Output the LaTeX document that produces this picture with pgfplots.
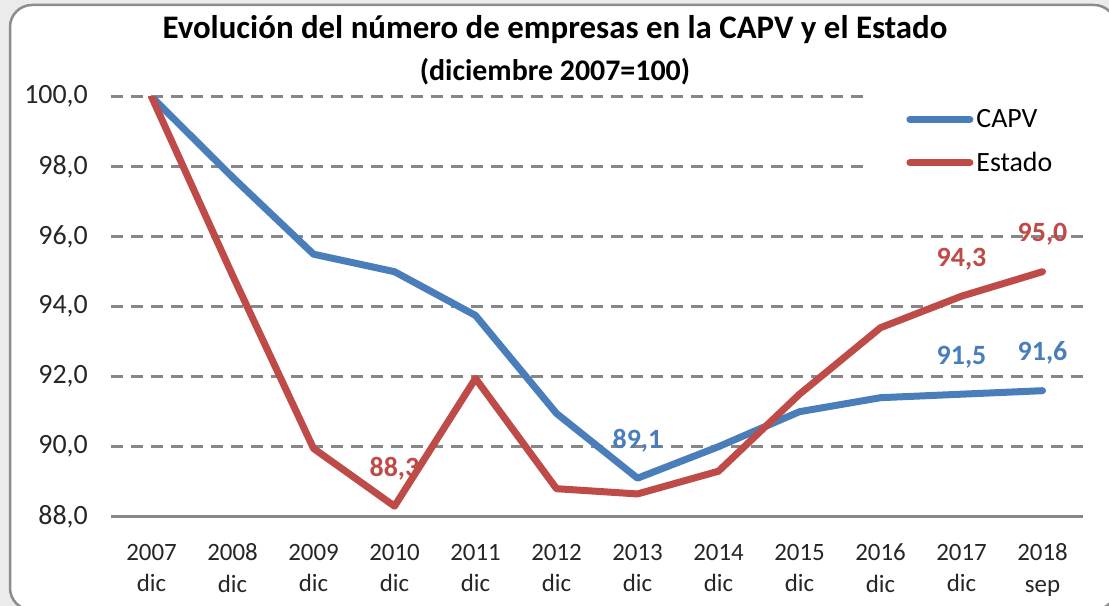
\documentclass[border=0pt]{standalone}
\usepackage{pgfplots}
\pgfplotsset{compat=1.18}
\usepackage{fontspec}
\setmainfont{Carlito}
\definecolor{capv}{HTML}{4A7EBB}
\definecolor{estado}{HTML}{BE4B48}
\definecolor{gridc}{HTML}{878787}
\definecolor{framec}{HTML}{8C8C8C}
\definecolor{bgc}{HTML}{EBEBEB}
\begin{document}
\begin{tikzpicture}[x=1bp,y=1bp]
\useasboundingbox (0,0) rectangle (1109,606);
\fill[bgc] (0,0) rectangle (1109,606);
\begin{scope}
\clip (0,0) rectangle (1109,606);
\draw[line width=2.5bp, draw=framec, fill=white, rounded corners=22bp] (10,601) rectangle (1116,-4);
\end{scope}
\node[font=\fontsize{33}{38}\selectfont\bfseries] at (555,576) {Evolución del número de empresas en la CAPV y el Estado};
\node[font=\fontsize{30}{34}\selectfont\bfseries] at (555,534) {(diciembre 2007=100)};
\begin{axis}[
  at={(111bp,89.3bp)}, anchor=south west, scale only axis,
  width=972bp, height=420bp,
  xmin=-0.5, xmax=11.5, ymin=88, ymax=100,
  axis x line*=bottom, axis y line*=left,
  x axis line style={-, draw=gridc, line width=2.5bp},
  y axis line style={draw=none},
  major tick length=0pt,
  ytick={88,90,...,100},
  xtick={0,...,11},
  xticklabels={{2007\\dic},{2008\\dic},{2009\\dic},{2010\\dic},{2011\\dic},{2012\\dic},{2013\\dic},{2014\\dic},{2015\\dic},{2016\\dic},{2017\\dic},{2018\\sep}},
  xticklabel style={align=center, font=\fontsize{25}{32}\selectfont, inner sep=0pt, yshift=-27bp, text=black!85},
  yticklabel style={font=\fontsize{28}{32}\selectfont, inner sep=0pt, xshift=-23bp, text=black!85},
  /pgf/number format/.cd, fixed, fixed zerofill, precision=1, use comma, assume math mode=true, /pgfplots/.cd,
  ymajorgrids,
  grid style={draw=gridc, line width=2.5bp, dash pattern=on 12bp off 8bp},
  legend style={at={(axis description cs:0.779,1.01)}, anchor=north west, draw=none, fill=white,
    inner xsep=38bp, inner ysep=14bp, row sep=17bp, cells={anchor=west},
    font=\fontsize{28}{32}\selectfont, nodes={inner sep=3bp}},
  legend image code/.code={\draw[#1, line cap=round] (0bp,0bp) -- (60bp,0bp);},
]
\addplot[capv, line width=7bp, line join=round, line cap=round] coordinates {
(0,100) (1,97.7) (2,95.5) (3,95.0) (4,93.75) (5,90.95) (6,89.1) (7,90.0) (8,91.0) (9,91.4) (10,91.5) (11,91.6)};
\addlegendentry{CAPV}
\addplot[estado, line width=7bp, line join=round, line cap=round] coordinates {
(0,100) (1,94.9) (2,89.95) (3,88.3) (4,91.95) (5,88.8) (6,88.65) (7,89.3) (8,91.5) (9,93.4) (10,94.3) (11,95.0)};
\addlegendentry{Estado}
\addplot[draw=none, forget plot, nodes near coords, point meta=y,
  every node near coord/.append style={font=\fontsize{28}{32}\selectfont\bfseries, text=capv, inner sep=0pt, yshift=26bp}]
  coordinates {(6,89.1) (10,91.5) (11,91.6)};
\addplot[draw=none, forget plot, nodes near coords, point meta=y,
  every node near coord/.append style={font=\fontsize{28}{32}\selectfont\bfseries, text=estado, inner sep=0pt, yshift=26bp}]
  coordinates {(3,88.3) (10,94.3) (11,95.0)};
\end{axis}
\end{tikzpicture}
\end{document}
